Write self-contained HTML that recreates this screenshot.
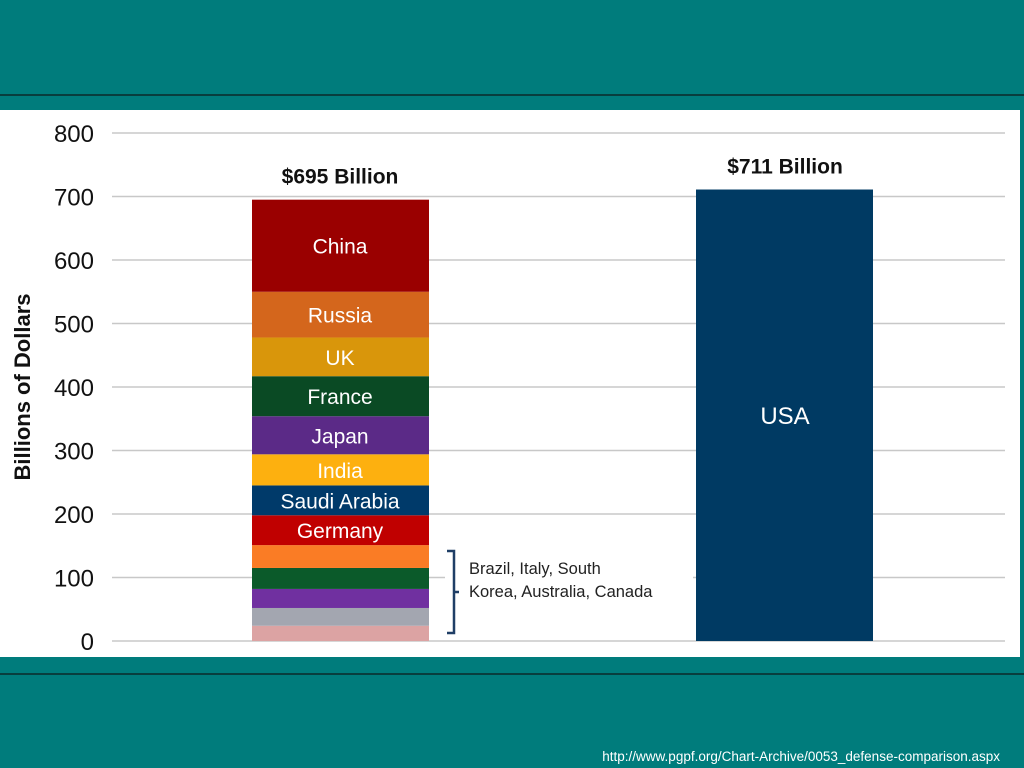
<!DOCTYPE html>
<html><head><meta charset="utf-8"><style>
html,body{margin:0;padding:0;width:1024px;height:768px;overflow:hidden;background:#007c7c;font-family:"Liberation Sans",sans-serif}
#frame{position:absolute;left:0;top:0;width:1024px;height:768px}
</style></head><body>
<svg id="frame" width="1024" height="768">
<rect x="0" y="0" width="1024" height="768" fill="#007c7c"/>
<line x1="0" y1="95" x2="1024" y2="95" stroke="#0a2a2a" stroke-width="1.5"/>
<line x1="0" y1="674" x2="1024" y2="674" stroke="#0a2a2a" stroke-width="1.5"/>
<rect x="0" y="110" width="1020" height="547" fill="#fff"/>
<g id="grid"></g><g id="bars"></g>
<text x="30" y="387" transform="rotate(-90 30 387)" text-anchor="middle" font-size="22" font-weight="bold" fill="#111">Billions of Dollars</text>
<text x="1000" y="761" text-anchor="end" font-size="13.5" fill="#fff">http://www.pgpf.org/Chart-Archive/0053_defense-comparison.aspx</text>
</svg>
<script>
const ticks=[0,100,200,300,400,500,600,700,800];
const countries=["Canada","Australia","South Korea","Italy","Brazil","Germany","Saudi Arabia","India","Japan","France","UK","Russia","China"];
const values=[24,28,30,33,36,47,47,49,60,63,61,72,145];
const labels=["","","","","","Germany","Saudi Arabia","India","Japan","France","UK","Russia","China"];
const colors=["#dca3a3","#a3a6b0","#7030a0","#0b5a2a","#fa7c25","#c00000","#003a6a","#fdb00f","#5b2a87","#0a4a24","#d9960b","#d4661c","#9a0000"];
const usaValue=711;
const NS="http://www.w3.org/2000/svg";
const y=v=>641-v*0.635;
function mk(tag,attrs,parent){const e=document.createElementNS(NS,tag);for(const k in attrs)e.setAttribute(k,attrs[k]);parent.appendChild(e);return e;}
const grid=document.getElementById('grid'),bars=document.getElementById('bars');
ticks.forEach(t=>{
 const l=mk('line',{x1:112,x2:1005,y1:y(t),y2:y(t),stroke:'#c8c8c8','stroke-width':1.5},grid);
 
 
 const tx=mk('text',{x:94,y:y(t)+9,'text-anchor':'end','font-size':24,fill:'#111'},grid);
 tx.textContent=t;
 
 
});
let cum=0;
values.forEach((v,i)=>{
 const r=mk('rect',{x:252,width:177,y:y(cum+v),height:y(cum)-y(cum+v),fill:colors[i]},bars);
 
 
 if(labels[i]){const t=mk('text',{x:340,y:(y(cum)+y(cum+v))/2+8,'text-anchor':'middle','font-size':21,fill:'#fff'},bars);t.textContent=labels[i];
 
 }
 cum+=v;
});
const tot=mk('text',{x:340,y:y(cum)-16,'text-anchor':'middle','font-size':21,'font-weight':'bold',fill:'#111'},bars);
tot.textContent='$'+cum+' Billion';


const u=mk('rect',{x:696,width:177,y:y(usaValue),height:y(0)-y(usaValue),fill:'#003a63'},bars);


const ut=mk('text',{x:785,y:424,'text-anchor':'middle','font-size':24,fill:'#fff'},bars);
ut.textContent='USA';


const ul=mk('text',{x:785,y:y(usaValue)-16,'text-anchor':'middle','font-size':21,'font-weight':'bold',fill:'#111'},bars);
ul.textContent='$'+usaValue+' Billion';


const bg=mk('rect',{x:445,y:550,width:248,height:60,fill:'#fff'},bars);


const br=mk('path',{d:'M447,551 h7 v82 h-7 M454,592 h5',fill:'none',stroke:'#1f3e66','stroke-width':2.5},bars);


['Brazil, Italy, South','Korea, Australia, Canada'].forEach((s,i)=>{
 const t=mk('text',{x:469,y:574+i*23,'font-size':16.5,fill:'#222'},bars);t.textContent=s;
 
 
});
</script>
</body></html>
